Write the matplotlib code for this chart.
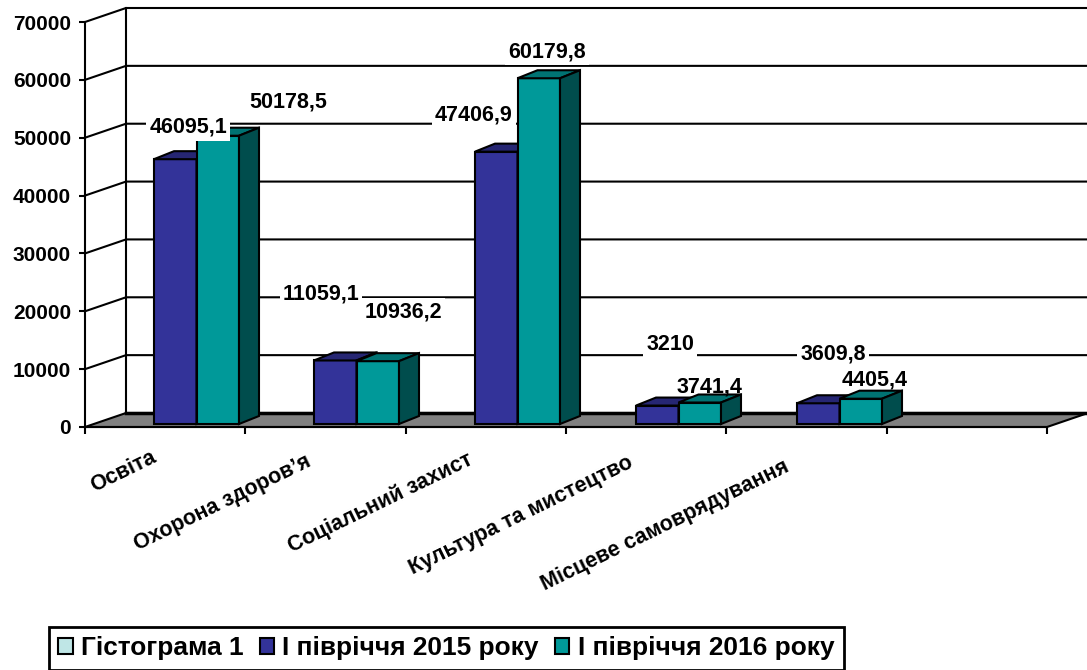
import matplotlib
matplotlib.use("Agg")
import matplotlib.pyplot as plt
from matplotlib.patches import Patch, Polygon
from matplotlib.transforms import ScaledTranslation

plt.rcParams['font.family'] = ['Liberation Sans', 'DejaVu Sans']
plt.rcParams['font.weight'] = 'bold'

categories = ["Освіта", "Охорона здоров’я", "Соціальний захист", "Культура та мистецтво", "Місцеве самоврядування"]
values_2015 = [46095.1, 11059.1, 47406.9, 3210, 3609.8]
values_2016 = [50178.5, 10936.2, 60179.8, 3741.4, 4405.4]
labels_2015 = ["46095,1", "11059,1", "47406,9", "3210", "3609,8"]
labels_2016 = ["50178,5", "10936,2", "60179,8", "3741,4", "4405,4"]
yticks = [0, 10000, 20000, 30000, 40000, 50000, 60000, 70000]
legend_names = ["Гістограма 1", "I півріччя 2015 року", "I півріччя 2016 року"]

W, H = 1087, 670
fig = plt.figure(figsize=(W / 100, H / 100), dpi=100, facecolor='white')
ax = fig.add_axes([85 / W, 1 - 427 / H, 962 / W, 405 / H])
ax.set_xlim(0, 6)
ax.set_ylim(0, 70000)

# size of one pixel in data units, the fake 3D is done with these
px = 6 / 962
py = 70000 / 405
wall_dx, wall_dy = 41 * px, 14 * py
lw = 1.5
bar_scale = 0.993

# floor and back wall
ax.add_patch(Polygon([(0, 0), (wall_dx, wall_dy), (6 + wall_dx, wall_dy), (6, 0)],
                     closed=True, facecolor='#808080', edgecolor='black', lw=lw, clip_on=False, zorder=1))
for v in yticks[1:]:
    ax.plot([0, wall_dx, 6 + wall_dx], [v, v + wall_dy, v + wall_dy], color='black', lw=lw, clip_on=False, zorder=1)
ax.plot([wall_dx, wall_dx], [wall_dy, 70000 + wall_dy], color='black', lw=lw, clip_on=False, zorder=1)
ax.plot([wall_dx, 6 + wall_dx], [wall_dy, wall_dy], color='black', lw=2.5, clip_on=False, zorder=1)


def draw_bar(x, v, front, top, side):
    w = 42.5 * px
    base = 3 * py
    dx, dy = 20 * px, 8 * py
    h = v * bar_scale
    ax.bar(x, h, width=w, bottom=base, align='edge', color=front, edgecolor='black', lw=lw, zorder=3)
    t = h + base
    ax.add_patch(Polygon([(x, t), (x + dx, t + dy), (x + w + dx, t + dy), (x + w, t)],
                         closed=True, facecolor=top, edgecolor='black', lw=lw, zorder=3))
    ax.add_patch(Polygon([(x + w, base), (x + w + dx, base + dy), (x + w + dx, t + dy), (x + w, t)],
                         closed=True, facecolor=side, edgecolor='black', lw=lw, zorder=3))


starts = [154, 314, 475, 636, 797]
for i in range(len(categories)):
    x0 = (starts[i] - 85) * px
    draw_bar(x0, values_2015[i], '#333399', '#262673', '#262673')
    draw_bar(x0 + 42.5 * px, values_2016[i], '#009999', '#007373', '#004D4D')

# value labels, offsets in pixels from the top of each bar
off_2015 = [(13, 30), (-14, 66), (-22, 35), (13, 61), (15, 49)]
off_2016 = [(70, 32), (25, 49), (8, 24), (9, 15), (14, 19)]
# the two low labels sit right on their bars, no white box there
boxed_2016 = [True, True, True, False, False]
box = dict(facecolor='white', edgecolor='none', pad=2)
for i in range(len(categories)):
    x0 = (starts[i] - 85) * px
    ax.annotate(labels_2015[i], (x0 + 21 * px, values_2015[i] + 3 * py), xytext=off_2015[i],
                textcoords='offset pixels', ha='center', va='center', fontsize=15.5,
                annotation_clip=False, zorder=6, bbox=box)
    ax.annotate(labels_2016[i], (x0 + 64 * px, values_2016[i] + 3 * py), xytext=off_2016[i],
                textcoords='offset pixels', ha='center', va='center', fontsize=15.5,
                annotation_clip=False, zorder=6, bbox=box if boxed_2016[i] else None)

# axes
for s in ['top', 'right']:
    ax.spines[s].set_visible(False)
for s in ['left', 'bottom']:
    ax.spines[s].set_linewidth(lw)
    ax.spines[s].set_zorder(2)
ax.patch.set_alpha(0)
ax.set_yticks(yticks)
ax.set_yticklabels([str(v) for v in yticks], fontsize=15)
ax.tick_params(axis='y', length=4, width=lw, pad=6)
ax.set_xticks(range(7))
ax.set_xticklabels([])
ax.tick_params(axis='x', which='major', length=5, width=lw)
ax.set_xticks([i + 0.5 for i in range(5)], minor=True)
ax.set_xticklabels(categories, minor=True, fontsize=15.5, rotation=26, ha='right', rotation_mode='anchor')
ax.tick_params(axis='x', which='minor', length=0, pad=16)

# nudge the slanted labels, in pixels
shift_x = [-15, -20, -19, -19, -23]
shift_y = [3, -2, 0, -3, -7]
for lab, sx, sy in zip(ax.get_xticklabels(minor=True), shift_x, shift_y):
    lab.set_transform(lab.get_transform() + ScaledTranslation(sx / 100, sy / 100, fig.dpi_scale_trans))

handles = [Patch(facecolor='#BFE6E6', edgecolor='black', lw=lw),
           Patch(facecolor='#333399', edgecolor='black', lw=lw),
           Patch(facecolor='#009999', edgecolor='black', lw=lw)]
leg = fig.legend(handles, legend_names, ncols=3, loc='lower left', bbox_to_anchor=(49 / W, 0.5 / H),
                 bbox_transform=fig.transFigure, fontsize=18.9, frameon=True, fancybox=False, framealpha=1,
                 edgecolor='black', handlelength=0.55, handleheight=0.55, handletextpad=0.32,
                 columnspacing=0.6, borderpad=0.36, borderaxespad=0)
leg.get_frame().set_linewidth(2)

fig.savefig('out.png', dpi=100)
